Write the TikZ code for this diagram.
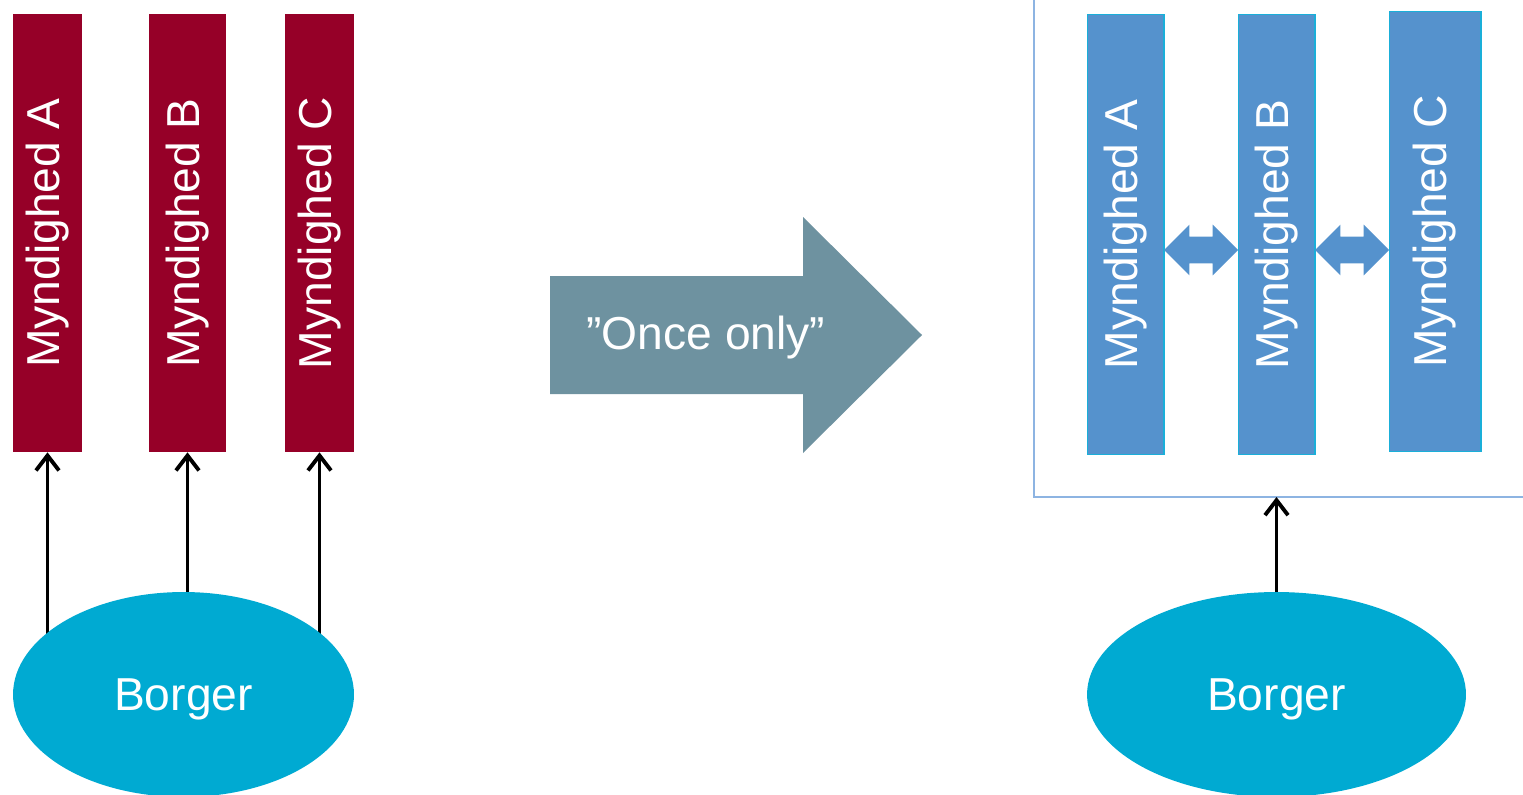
\documentclass[tikz,border=0pt]{standalone}
\usepackage{fontspec}
\setmainfont{Liberation Sans}
\usepackage{graphicx}
\usetikzlibrary{arrows.meta,shapes.geometric,shapes.arrows,backgrounds}
\definecolor{myndred}{HTML}{960028}
\definecolor{myndblue}{HTML}{5592CD}
\definecolor{myndedge}{HTML}{1AAFD9}
\definecolor{borgerblue}{HTML}{00AAD2}
\definecolor{pilgray}{HTML}{6E92A0}
\definecolor{boksblue}{HTML}{8DB4E2}
\newcommand{\storfont}{\fontsize{26.3}{30}\selectfont}
\newcommand{\lodret}[1]{\rotatebox{90}{#1}}

\begin{document}
\begin{tikzpicture}[x=0.02cm,y=-0.02cm,
  mynd/.style={rectangle,inner sep=0pt,text=white,font=\storfont},
  redmynd/.style={mynd,fill=myndred,minimum width=#1,minimum height=8.76cm},
  bluemynd/.style={mynd,fill=myndblue,draw=myndedge,line width=0.6pt,minimum width=#1,minimum height=8.82cm},
  borger/.style={ellipse,inner sep=0pt,fill=borgerblue,text=white,font=\storfont,text depth=0pt,minimum height=4.1cm,minimum width=#1},
  pil/.style={-{Straight Barb[length=0.3cm,width=0.46cm]},line width=2.2pt,black},
  dobbelt/.style={double arrow,fill=myndblue,inner sep=0pt,inner ysep=0.26cm,minimum height=1.48cm,
    double arrow head extend=0.24cm,double arrow tip angle=90}]

\useasboundingbox (0,0) rectangle (1523,794);
\clip (0,0) rectangle (1523,794);

% before: every authority asks the citizen
\node[redmynd=1.38cm] (rA) at (47.5,233) {\lodret{Myndighed A}};
\node[redmynd=1.54cm] (rB) at (187.5,233) {\lodret{Myndighed B}};
\node[redmynd=1.38cm] (rC) at (319.5,233) {\lodret{Myndighed C}};
\node[borger=6.82cm] (borgerL) at (183.5,694.5) {Borger};

\begin{pgfonlayer}{background}
\draw[pil] (rA.south |- borgerL.center) -- (rA.south);
\draw[pil] (rB.south |- borgerL.center) -- (rB.south);
\draw[pil] (rC.south |- borgerL.center) -- (rC.south);
\end{pgfonlayer}

% the big arrow
\fill[pilgray] (550,276) -- (803,276) -- (803,217) -- (922,335) -- (803,453) -- (803,394) -- (550,394) -- cycle;
\node[text=white,font=\storfont] (once) at (706,338) {”Once only”};

% after: the authorities share the data
\draw[boksblue,line width=0.6pt] (1034,-10) rectangle (1540,497);
\coordinate (boksbund) at (1276.5,497);

\node[bluemynd=1.54cm] (bA) at (1125.5,234.5) {\lodret{Myndighed A}};
\node[bluemynd=1.54cm] (bB) at (1276.5,234.5) {\lodret{Myndighed B}};
\node[bluemynd=1.84cm] (bC) at (1435,231.5) {\lodret{Myndighed C}};

\node[dobbelt] (ab) at (1201,250) {};
\node[dobbelt] (bc) at (1352,250) {};

\node[borger=7.58cm] (borgerR) at (1276.5,694.5) {Borger};
\draw[pil] (borgerR.north) -- (boksbund);

\end{tikzpicture}
\end{document}
